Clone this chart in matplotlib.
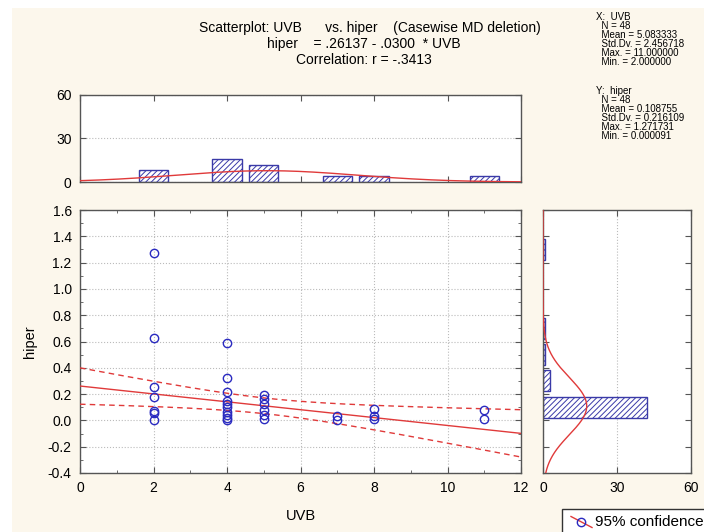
import numpy as np
import matplotlib
matplotlib.use('Agg')
import matplotlib.pyplot as plt
from matplotlib.patches import Rectangle
from matplotlib.lines import Line2D
from matplotlib.ticker import MultipleLocator

plt.rcParams['font.family'] = ['Liberation Sans', 'DejaVu Sans']
plt.rcParams['hatch.linewidth'] = 0.7

# ---------------- data ----------------
uvb = [2, 2, 2, 2, 2, 2, 2,
       4, 4, 4, 4, 4, 4, 4, 4, 4, 4,
       5, 5, 5, 5, 5, 5,
       7, 7,
       8, 8, 8,
       11, 11]
hiper = [1.270, 0.624, 0.254, 0.178, 0.071, 0.056, 0.005,
         0.585, 0.320, 0.218, 0.149, 0.124, 0.099, 0.066, 0.040, 0.015, 0.002,
         0.195, 0.160, 0.124, 0.078, 0.038, 0.008,
         0.030, 0.003,
         0.084, 0.030, 0.008,
         0.078, 0.010]

uvb_bins = [2, 4, 5, 7, 8, 11]
uvb_counts = [8, 16, 12, 4, 4, 4]

hiper_bins = [0.1, 0.3, 0.5, 0.7, 1.3]
hiper_counts = [42, 3, 1, 1, 1]

n = 48
x_mean, x_sd, x_max, x_min = 5.083333, 2.456718, 11.000000, 2.000000
y_mean, y_sd, y_max, y_min = 0.108755, 0.216109, 1.271731, 0.000091
intercept, slope, r = 0.26137, -0.0300, -0.3413
t_crit = 2.0129

main_xticks = [0, 2, 4, 6, 8, 10, 12]
main_yticks = [-0.4, -0.2, 0.0, 0.2, 0.4, 0.6, 0.8, 1.0, 1.2, 1.4, 1.6]
main_ytick_labels = ['-0.4', '-0.2', '0.0', '0.2', '0.4', '0.6', '0.8', '1.0', '1.2', '1.4', '1.6']
hist_ticks = [0, 30, 60]

# ---------------- styles ----------------
BG = '#FCF7EC'
BLUE = '#2A2AC0'
HATCH_BLUE = '#3A3AA8'
RED = '#E03A3A'
SPINE = '#555555'
GRID = '#BBBBBB'

W, H = 704, 532
fig = plt.figure(figsize=(W / 100, H / 100), dpi=100, facecolor='white')
fig.patches.append(Rectangle((12 / W, 0), 1, 1 - 8 / H, transform=fig.transFigure,
                             facecolor=BG, edgecolor='none', zorder=-10))


def fr(x0, y0, x1, y1):
    return [x0 / W, 1 - y1 / H, (x1 - x0) / W, (y1 - y0) / H]


ax = fig.add_axes(fr(80, 210, 521, 473))
axt = fig.add_axes(fr(80, 95, 521, 182))
axr = fig.add_axes(fr(543, 210, 691, 473))

for a in (ax, axt, axr):
    a.set_facecolor('white')
    for s in a.spines.values():
        s.set_color(SPINE)
        s.set_linewidth(1.0)
    a.tick_params(which='both', direction='in', top=True, right=True,
                  color=SPINE, labelsize=10, pad=6)
    a.tick_params(which='major', length=4)
    a.tick_params(which='minor', length=2.5)

# ---------------- main scatter ----------------
xs = np.linspace(0, 12, 200)
yfit = intercept + slope * xs
s_res = y_sd * np.sqrt(1 - r ** 2) * np.sqrt((n - 1) / (n - 2))
sxx = (n - 1) * x_sd ** 2
se = s_res * np.sqrt(1.0 / n + (xs - x_mean) ** 2 / sxx)
ax.plot(xs, yfit, color=RED, lw=1.0, zorder=3)
ax.plot(xs, yfit + t_crit * se, color=RED, lw=1.0, ls=(0, (4, 3)), zorder=3)
ax.plot(xs, yfit - t_crit * se, color=RED, lw=1.0, ls=(0, (4, 3)), zorder=3)
ax.plot(uvb, hiper, 'o', mfc='none', mec=BLUE, ms=6, mew=1.0, zorder=4)

ax.set_xlim(0, 12)
ax.set_ylim(-0.4, 1.6)
ax.set_xticks(main_xticks)
ax.xaxis.set_minor_locator(MultipleLocator(1))
ax.set_yticks(main_yticks)
ax.set_yticklabels(main_ytick_labels)
ax.yaxis.set_minor_locator(MultipleLocator(0.1))
ax.grid(True, which='major', color=GRID, ls=':', lw=0.8)
ax.set_axisbelow(True)
ax.set_xlabel('UVB', fontsize=10.5, labelpad=10)
ax.set_ylabel('hiper', fontsize=10.5, labelpad=8)

# ---------------- top histogram ----------------
axt.bar(uvb_bins, uvb_counts, width=0.8, facecolor='white', edgecolor=HATCH_BLUE,
        hatch='//////', lw=1.0, zorder=2)
xt = np.linspace(0, 12, 300)
axt.plot(xt, n * 1.0 * np.exp(-0.5 * ((xt - x_mean) / x_sd) ** 2) / (x_sd * np.sqrt(2 * np.pi)),
         color=RED, lw=1.0, zorder=3)
axt.set_xlim(0, 12)
axt.set_ylim(0, 60)
axt.set_xticks(main_xticks)
axt.set_xticklabels([])
axt.set_yticks(hist_ticks)
axt.grid(True, axis='y', color=GRID, ls=':', lw=0.8)
axt.set_axisbelow(True)

# ---------------- right histogram ----------------
axr.barh(hiper_bins, hiper_counts, height=0.16, facecolor='white', edgecolor=HATCH_BLUE,
         hatch='//////', lw=1.0, zorder=2)
yr = np.linspace(-0.4, 1.6, 400)
axr.plot(n * 0.2 * np.exp(-0.5 * ((yr - y_mean) / y_sd) ** 2) / (y_sd * np.sqrt(2 * np.pi)), yr,
         color=RED, lw=1.0, zorder=3)
axr.set_xlim(0, 60)
axr.set_ylim(-0.4, 1.6)
axr.set_xticks(hist_ticks)
axr.set_yticks(main_yticks)
axr.set_yticklabels([])
axr.grid(True, axis='x', color=GRID, ls=':', lw=0.8)
axr.set_axisbelow(True)

# ---------------- titles ----------------
fig.text(370 / W, 1 - 28 / H, 'Scatterplot: UVB      vs. hiper    (Casewise MD deletion)',
         ha='center', va='center', fontsize=10)
fig.text(364 / W, 1 - 44 / H, 'hiper    = .26137 - .0300  * UVB',
         ha='center', va='center', fontsize=10)
fig.text(364 / W, 1 - 60 / H, 'Correlation: r = -.3413',
         ha='center', va='center', fontsize=10)

# ---------------- stats box ----------------
stats_x = ['X:  UVB', '  N = 48', '  Mean = %.6f' % x_mean, '  Std.Dv. = %.6f' % x_sd,
           '  Max. = %.6f' % x_max, '  Min. = %.6f' % x_min]
stats_y = ['Y:  hiper', '  N = 48', '  Mean = %.6f' % y_mean, '  Std.Dv. = %.6f' % y_sd,
           '  Max. = %.6f' % y_max, '  Min. = %.6f' % y_min]
fig.text(596.5 / W, 1 - 12.5 / H, '\n'.join(stats_x), ha='left', va='top',
         fontsize=7, linespacing=0.87)
fig.text(596.5 / W, 1 - 86 / H, '\n'.join(stats_y), ha='left', va='top',
         fontsize=7, linespacing=0.87)

# ---------------- legend (partially cut at figure edge) ----------------
fig.patches.append(Rectangle((562 / W, -0.05), 0.3, 0.05 + (1 - 509 / H),
                             transform=fig.transFigure, facecolor='white',
                             edgecolor='#333333', lw=1.0, zorder=5))
fig.lines.append(Line2D([571 / W, 592 / W], [1 - 516.5 / H, 1 - 527.5 / H],
                        transform=fig.transFigure, color=RED, lw=1.0, zorder=6))
fig.lines.append(Line2D([581 / W], [1 - 521.7 / H], transform=fig.transFigure,
                        marker='o', mfc='none', mec=BLUE, ms=6, mew=1.0, zorder=7))
fig.text(595 / W, 1 - 521.5 / H, '95% confidence', ha='left', va='center',
         fontsize=11, zorder=8)

fig.savefig('out.png', dpi=100, facecolor=fig.get_facecolor())
